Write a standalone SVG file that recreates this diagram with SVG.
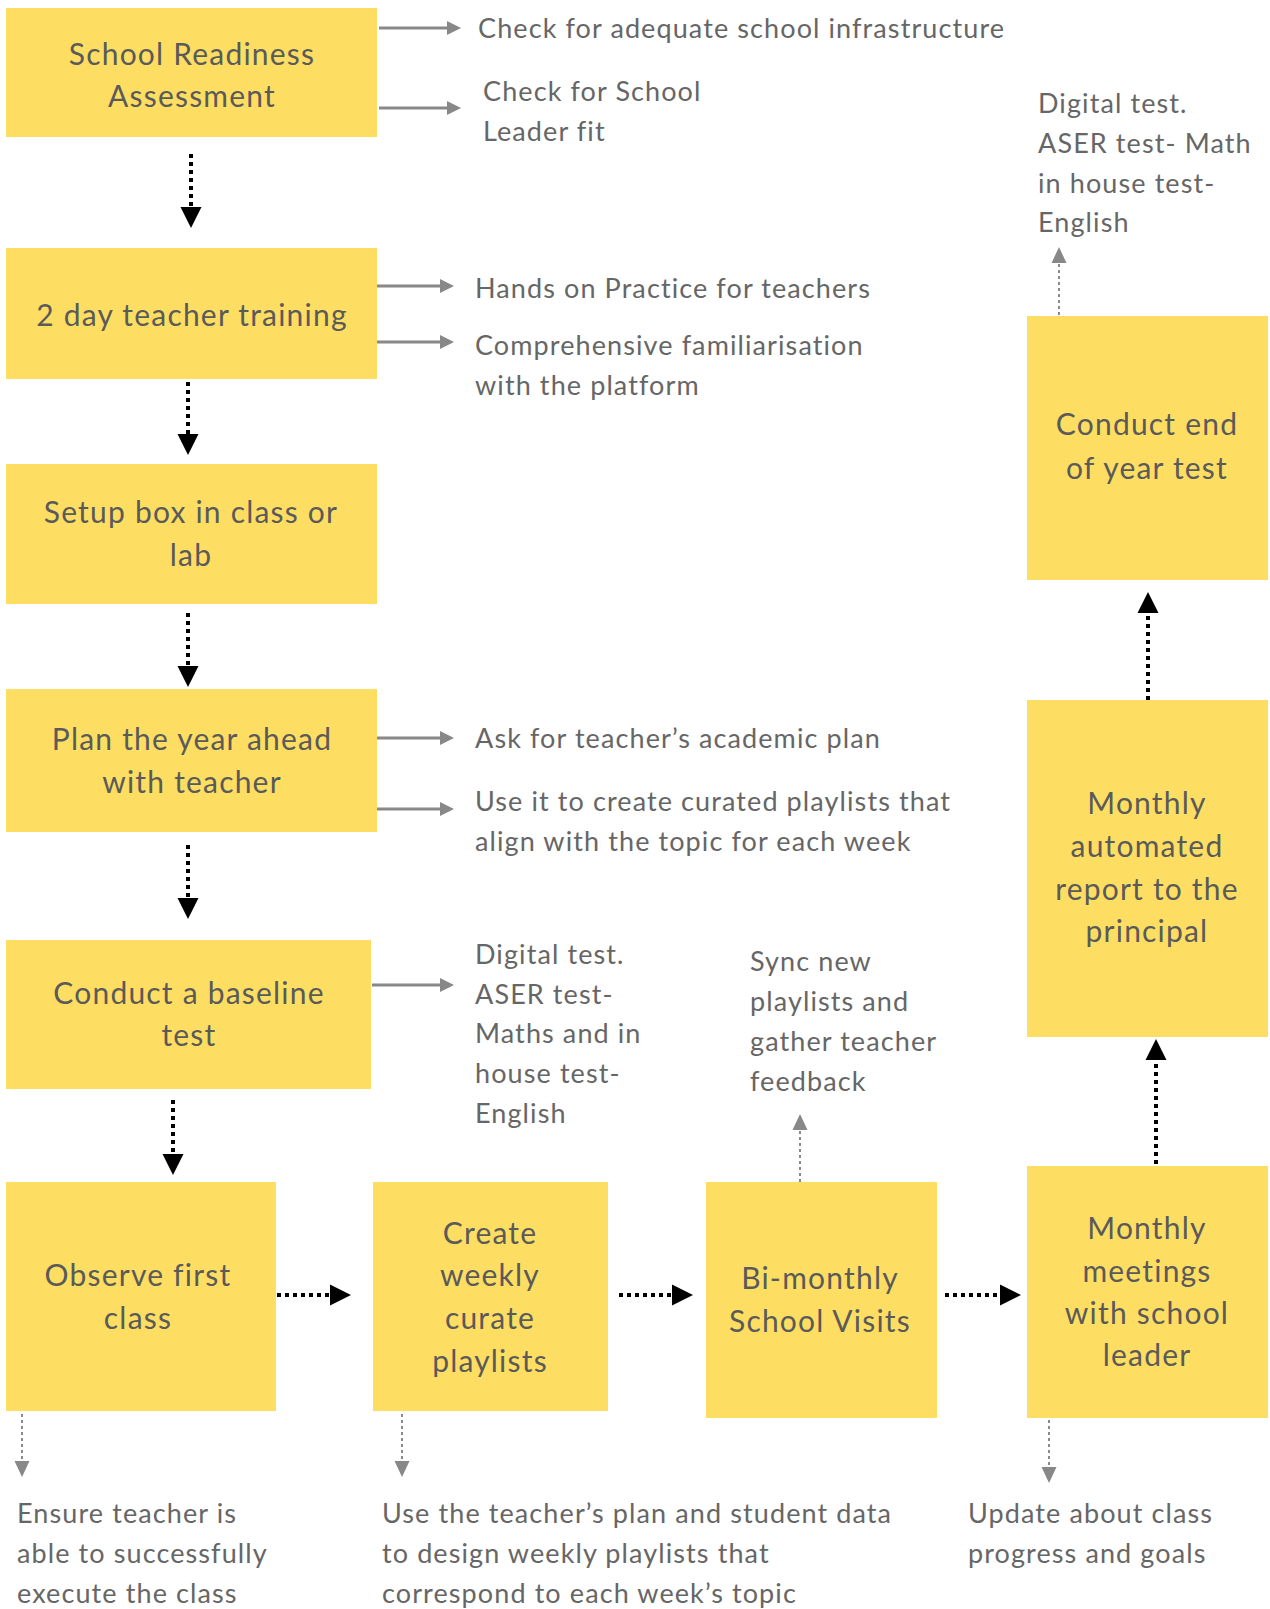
<svg xmlns="http://www.w3.org/2000/svg" width="1270" height="1609" viewBox="0 0 1270 1609">
<style>
.box{fill:#FEDE62}
.bt{font-family:Lato,"Liberation Sans",sans-serif;font-size:30px;letter-spacing:1.2px;fill:#5a5a5a;text-anchor:middle;dominant-baseline:central}
.st{font-family:Lato,"Liberation Sans",sans-serif;font-size:27px;letter-spacing:1.1px;fill:#666666;dominant-baseline:central}
.ga{stroke:#888888;stroke-width:3;fill:none}
.gd{stroke:#8a8a8a;stroke-width:2;stroke-dasharray:3 3;fill:none}
.bd{stroke:#000000;stroke-width:4;stroke-dasharray:4 4;fill:none}
</style>
<defs>
<marker id="mb" markerUnits="userSpaceOnUse" markerWidth="22" markerHeight="22" refX="0" refY="10.5" orient="auto" overflow="visible"><path d="M0,0 L21,10.5 L0,21 z" fill="#000"/></marker>
<marker id="mg" markerUnits="userSpaceOnUse" markerWidth="16" markerHeight="16" refX="0" refY="7" orient="auto" overflow="visible"><path d="M0,0 L14,7 L0,14 z" fill="#888"/></marker>
<marker id="mgd" markerUnits="userSpaceOnUse" markerWidth="18" markerHeight="18" refX="0" refY="7.5" orient="auto" overflow="visible"><path d="M0,0 L16,7.5 L0,15 z" fill="#888"/></marker>
</defs>

<g id="connectors">
<line class="ga" x1="379" y1="28" x2="447" y2="28" marker-end="url(#mg)"/>
<line class="ga" x1="379" y1="108" x2="447" y2="108" marker-end="url(#mg)"/>
<line class="ga" x1="377" y1="286" x2="440" y2="286" marker-end="url(#mg)"/>
<line class="ga" x1="377" y1="342" x2="440" y2="342" marker-end="url(#mg)"/>
<line class="ga" x1="377" y1="738" x2="440" y2="738" marker-end="url(#mg)"/>
<line class="ga" x1="377" y1="809" x2="440" y2="809" marker-end="url(#mg)"/>
<line class="ga" x1="372" y1="985" x2="440" y2="985" marker-end="url(#mg)"/>

<line class="bd" x1="191" y1="154" x2="191" y2="207" marker-end="url(#mb)"/>
<line class="bd" x1="188" y1="382" x2="188" y2="434" marker-end="url(#mb)"/>
<line class="bd" x1="188" y1="613" x2="188" y2="666" marker-end="url(#mb)"/>
<line class="bd" x1="188" y1="845" x2="188" y2="898" marker-end="url(#mb)"/>
<line class="bd" x1="173" y1="1100" x2="173" y2="1154" marker-end="url(#mb)"/>
<line class="bd" x1="277" y1="1295" x2="330" y2="1295" marker-end="url(#mb)"/>
<line class="bd" x1="619" y1="1295" x2="672" y2="1295" marker-end="url(#mb)"/>
<line class="bd" x1="945" y1="1295" x2="1000" y2="1295" marker-end="url(#mb)"/>
<line class="bd" x1="1156" y1="1164" x2="1156" y2="1060" marker-end="url(#mb)"/>
<line class="bd" x1="1148" y1="700" x2="1148" y2="613" marker-end="url(#mb)"/>

<line class="gd" x1="1059" y1="315" x2="1059" y2="263" marker-end="url(#mgd)"/>
<line class="gd" x1="800" y1="1182" x2="800" y2="1130" marker-end="url(#mgd)"/>
<line class="gd" x1="22" y1="1414" x2="22" y2="1461" marker-end="url(#mgd)"/>
<line class="gd" x1="402" y1="1414" x2="402" y2="1461" marker-end="url(#mgd)"/>
<line class="gd" x1="1049" y1="1420" x2="1049" y2="1467" marker-end="url(#mgd)"/>
</g>

<g id="n1"><rect class="box" x="6" y="8" width="371" height="129"/>
<text class="bt" x="192" y="53">School Readiness</text><text class="bt" x="192" y="95">Assessment</text></g>
<g id="n2"><rect class="box" x="6" y="248" width="371" height="131"/>
<text class="bt" x="192" y="314">2 day teacher training</text></g>
<g id="n3"><rect class="box" x="6" y="464" width="371" height="140"/>
<text class="bt" x="191" y="511">Setup box in class or</text><text class="bt" x="191" y="554">lab</text></g>
<g id="n4"><rect class="box" x="6" y="689" width="371" height="143"/>
<text class="bt" x="192" y="738">Plan the year ahead</text><text class="bt" x="192" y="781">with teacher</text></g>
<g id="n5"><rect class="box" x="6" y="940" width="365" height="149"/>
<text class="bt" x="189" y="992">Conduct a baseline</text><text class="bt" x="189" y="1034">test</text></g>
<g id="n6"><rect class="box" x="6" y="1182" width="270" height="229"/>
<text class="bt" x="138" y="1274">Observe first</text><text class="bt" x="138" y="1317">class</text></g>
<g id="n7"><rect class="box" x="373" y="1182" width="235" height="229"/>
<text class="bt" x="490" y="1232">Create</text><text class="bt" x="490" y="1274">weekly</text><text class="bt" x="490" y="1317">curate</text><text class="bt" x="490" y="1360">playlists</text></g>
<g id="n8"><rect class="box" x="706" y="1182" width="231" height="236"/>
<text class="bt" x="820" y="1277">Bi-monthly</text><text class="bt" x="820" y="1320">School Visits</text></g>
<g id="n9"><rect class="box" x="1027" y="1166" width="241" height="252"/>
<text class="bt" x="1147" y="1227">Monthly</text><text class="bt" x="1147" y="1270">meetings</text><text class="bt" x="1147" y="1312">with school</text><text class="bt" x="1147" y="1354">leader</text></g>
<g id="n10"><rect class="box" x="1027" y="700" width="241" height="337"/>
<text class="bt" x="1147" y="802">Monthly</text><text class="bt" x="1147" y="845">automated</text><text class="bt" x="1147" y="888">report to the</text><text class="bt" x="1147" y="930">principal</text></g>
<g id="n11"><rect class="box" x="1027" y="316" width="241" height="264"/>
<text class="bt" x="1147" y="423">Conduct end</text><text class="bt" x="1147" y="467">of year test</text></g>

<g id="labels">
<text class="st" x="478" y="27">Check for adequate school infrastructure</text>
<text class="st" x="483" y="90">Check for School</text>
<text class="st" x="483" y="130">Leader fit</text>
<text class="st" x="475" y="287">Hands on Practice for teachers</text>
<text class="st" x="475" y="344">Comprehensive familiarisation</text>
<text class="st" x="475" y="384">with the platform</text>
<text class="st" x="475" y="737">Ask for teacher’s academic plan</text>
<text class="st" x="475" y="800">Use it to create curated playlists that</text>
<text class="st" x="475" y="840">align with the topic for each week</text>
<text class="st" x="475" y="953">Digital test.</text>
<text class="st" x="475" y="993">ASER test-</text>
<text class="st" x="475" y="1032">Maths and in</text>
<text class="st" x="475" y="1072">house test-</text>
<text class="st" x="475" y="1112">English</text>
<text class="st" x="1038" y="102">Digital test.</text>
<text class="st" x="1038" y="142">ASER test- Math</text>
<text class="st" x="1038" y="182">in house test-</text>
<text class="st" x="1038" y="221">English</text>
<text class="st" x="750" y="960">Sync new</text>
<text class="st" x="750" y="1000">playlists and</text>
<text class="st" x="750" y="1040">gather teacher</text>
<text class="st" x="750" y="1080">feedback</text>
<text class="st" x="17" y="1512">Ensure teacher is</text>
<text class="st" x="17" y="1552">able to successfully</text>
<text class="st" x="17" y="1592">execute the class</text>
<text class="st" x="382" y="1512">Use the teacher’s plan and student data</text>
<text class="st" x="382" y="1552">to design weekly playlists that</text>
<text class="st" x="382" y="1592">correspond to each week’s topic</text>
<text class="st" x="968" y="1512">Update about class</text>
<text class="st" x="968" y="1552">progress and goals</text>
</g>
</svg>
